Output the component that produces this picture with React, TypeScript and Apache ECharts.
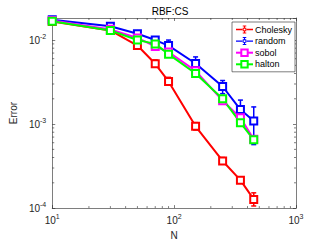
import React, { useEffect, useRef } from "react";
import * as echarts from "echarts";

const N = [10, 30, 50, 70, 90, 150, 250, 350, 450];
const cholesky = [0.0166, 0.013, 0.0086, 0.00522, 0.00322, 0.00094, 0.000364, 0.000215, 0.000127];
const choleskyLow = [0.0162, 0.0126, 0.0081, 0.0048, 0.0029, 0.00085, 0.00034, 0.0002, 0.000106];
const choleskyHigh = [0.017, 0.0134, 0.0091, 0.0058, 0.0036, 0.00104, 0.0004, 0.000234, 0.000152];
const random = [0.0174, 0.0146, 0.0119, 0.01, 0.0086, 0.00526, 0.0028, 0.00149, 0.00109];
const randomLow = [0.017, 0.0141, 0.0112, 0.0094, 0.0075, 0.0045, 0.0023, 0.00125, 0.00057];
const randomHigh = [0.0179, 0.0151, 0.0128, 0.0108, 0.01, 0.0063, 0.0033, 0.00193, 0.0016];
const sobol = [0.0171, 0.0134, 0.0106, 0.0084, 0.0072, 0.0043, 0.0019, 0.00119, 0.00066];
const halton = [0.0167, 0.013, 0.01, 0.009, 0.0068, 0.004, 0.002, 0.00104, 0.00065];

const X_MIN = 10;
const X_MAX = 1000;
const Y_MIN = 1e-4;
const Y_MAX = 0.0183;
const xMinorTicks = [20, 30, 40, 50, 60, 70, 80, 90, 200, 300, 400, 500, 600, 700, 800, 900];
const yMinorTicks = [2e-4, 3e-4, 4e-4, 5e-4, 6e-4, 7e-4, 8e-4, 9e-4, 2e-3, 3e-3, 4e-3, 5e-3, 6e-3, 7e-3, 8e-3, 9e-3];

const FONT = "'Liberation Sans', Arial, Helvetica, sans-serif";
const AX = "#262626";
const ERR_ICON =
  "path://M0 6.7H13V9.3H0Z M21 6.7H34V9.3H21Z M15.9 0H18.1V5H15.9Z M15.9 11H18.1V16H15.9Z M13.5 0H20.5V2H13.5Z M13.5 14H20.5V16H13.5Z M13.5 4.5H20.5V11.5H13.5Z M15.3 6.3V9.7H18.7V6.3Z";

function App() {
  const ref = useRef<HTMLDivElement>(null);
  useEffect(() => {
    if (!ref.current) return;
    const chart = echarts.init(ref.current, null, { renderer: "svg" });
    const pair = (ys: number[]) => N.map((n, i) => [n, ys[i]]);
    const errData = (lo: number[], hi: number[]) => N.map((n, i) => [n, lo[i], hi[i]]);
    const fmt = (v: number) => `{b|10}{s|${Math.round(Math.log10(v))}}`;
    const rich = {
      b: { fontSize: 10, fontFamily: FONT, color: AX },
      s: { fontSize: 7, fontFamily: FONT, color: AX, padding: [0, 0, 7, 0] },
    };
    const errSeries = (name: string, color: string, lo: number[], hi: number[]) => ({
      type: "custom",
      name: name + "_err",
      xAxisIndex: 0,
      yAxisIndex: 0,
      data: errData(lo, hi),
      encode: { x: 0, y: [1, 2] },
      silent: true,
      renderItem: (params: any, api: any) => {
        const x = api.value(0);
        const p1 = api.coord([x, api.value(1)]);
        const p2 = api.coord([x, api.value(2)]);
        const st = { stroke: color, lineWidth: 1.5 };
        return {
          type: "group",
          children: [
            { type: "line", shape: { x1: p1[0], y1: p1[1], x2: p2[0], y2: p2[1] }, style: st },
            { type: "line", shape: { x1: p1[0] - 2.5, y1: p1[1], x2: p1[0] + 2.5, y2: p1[1] }, style: st },
            { type: "line", shape: { x1: p2[0] - 2.5, y1: p2[1], x2: p2[0] + 2.5, y2: p2[1] }, style: st },
          ],
        };
      },
    });
    const lineSeries = (name: string, color: string, ys: number[]) => ({
      type: "line",
      name,
      data: pair(ys),
      xAxisIndex: 0,
      yAxisIndex: 0,
      symbol: "emptyRect",
      symbolSize: 7,
      showAllSymbol: true,
      lineStyle: { color, width: 2 },
      itemStyle: { color, borderColor: color, borderWidth: 1.8 },
      emphasis: { disabled: true },
    });
    chart.setOption({
      animation: false,
      title: {
        text: "RBF:CS",
        left: 170,
        textAlign: "center",
        top: 6,
        padding: 0,
        textStyle: { fontSize: 10, fontWeight: "normal", fontFamily: FONT, color: "#000" },
      },
      legend: {
        orient: "vertical",
        left: 232,
        top: 22,
        padding: [3, 3, 3, 3],
        itemGap: 2.6,
        itemWidth: 17,
        itemHeight: 8,
        borderColor: AX,
        borderWidth: 0.6,
        backgroundColor: "#fff",
        textStyle: { fontSize: 9, fontFamily: FONT, color: "#000", padding: [0, 0, 0, -3] },
        data: [
          { name: "Cholesky", icon: ERR_ICON, itemStyle: { color: "#ff0000", borderWidth: 0 } },
          { name: "random", icon: ERR_ICON, itemStyle: { color: "#0000ff", borderWidth: 0 } },
          { name: "sobol" },
          { name: "halton" },
        ],
      },
      grid: { left: 43, right: 31, top: 18, bottom: 29 },
      xAxis: [
        {
          type: "log",
          logBase: 10,
          min: X_MIN,
          max: X_MAX,
          name: "N",
          nameLocation: "middle",
          nameGap: 21,
          nameTextStyle: { fontSize: 10, fontFamily: FONT, color: AX },
          axisLine: { show: true, lineStyle: { color: AX, width: 0.6 } },
          axisTick: { show: true, inside: true, length: 3, lineStyle: { color: AX, width: 0.6 } },
          axisLabel: { margin: 5, formatter: fmt, rich },
          splitLine: { show: false },
          minorTick: { show: false },
        },
        {
          type: "log",
          logBase: 10,
          min: X_MIN,
          max: X_MAX,
          position: "top",
          axisLine: { show: true, onZero: false, lineStyle: { color: AX, width: 0.6 } },
          axisTick: { show: true, inside: true, length: 3, lineStyle: { color: AX, width: 0.6 } },
          axisLabel: { show: false },
          splitLine: { show: false },
        },
      ],
      yAxis: [
        {
          type: "log",
          logBase: 10,
          min: Y_MIN,
          max: Y_MAX,
          name: "Error",
          nameLocation: "middle",
          nameGap: 28,
          nameTextStyle: { fontSize: 10, fontFamily: FONT, color: AX },
          axisLine: { show: true, lineStyle: { color: AX, width: 0.6 } },
          axisTick: { show: true, inside: true, length: 3, lineStyle: { color: AX, width: 0.6 } },
          axisLabel: { margin: 6, formatter: fmt, rich, showMaxLabel: false },
          splitLine: { show: false },
        },
        {
          type: "log",
          logBase: 10,
          min: Y_MIN,
          max: Y_MAX,
          position: "right",
          axisLine: { show: true, onZero: false, lineStyle: { color: AX, width: 0.6 } },
          axisTick: { show: true, inside: true, length: 3, lineStyle: { color: AX, width: 0.6 } },
          axisLabel: { show: false },
          splitLine: { show: false },
        },
      ],
      series: [
        {
          type: "custom",
          name: "xminor",
          silent: true,
          data: xMinorTicks.map((v) => [v, Y_MIN]),
          encode: { x: 0, y: 1 },
          renderItem: (params: any, api: any) => {
            const v = api.value(0);
            const pb = api.coord([v, Y_MIN]);
            const pt = api.coord([v, Y_MAX]);
            const st = { stroke: AX, lineWidth: 0.6 };
            return {
              type: "group",
              children: [
                { type: "line", shape: { x1: pb[0], y1: pb[1], x2: pb[0], y2: pb[1] - 2 }, style: st },
                { type: "line", shape: { x1: pt[0], y1: pt[1], x2: pt[0], y2: pt[1] + 2 }, style: st },
              ],
            };
          },
        },
        {
          type: "custom",
          name: "yminor",
          silent: true,
          data: yMinorTicks.map((v) => [X_MIN, v]),
          encode: { x: 0, y: 1 },
          renderItem: (params: any, api: any) => {
            const v = api.value(1);
            const pl = api.coord([X_MIN, v]);
            const pr = api.coord([X_MAX, v]);
            const st = { stroke: AX, lineWidth: 0.6 };
            return {
              type: "group",
              children: [
                { type: "line", shape: { x1: pl[0], y1: pl[1], x2: pl[0] + 2, y2: pl[1] }, style: st },
                { type: "line", shape: { x1: pr[0], y1: pr[1], x2: pr[0] - 2, y2: pr[1] }, style: st },
              ],
            };
          },
        },
        errSeries("Cholesky", "#ff0000", choleskyLow, choleskyHigh),
        lineSeries("Cholesky", "#ff0000", cholesky),
        errSeries("random", "#0000ff", randomLow, randomHigh),
        lineSeries("random", "#0000ff", random),
        lineSeries("sobol", "#ff00ff", sobol),
        lineSeries("halton", "#00ff00", halton),
      ],
    });
    return () => chart.dispose();
  }, []);
  return <div ref={ref} style={{ width: 327, height: 245, position: "absolute", left: 0, top: 0 }} />;
}

export default App;
